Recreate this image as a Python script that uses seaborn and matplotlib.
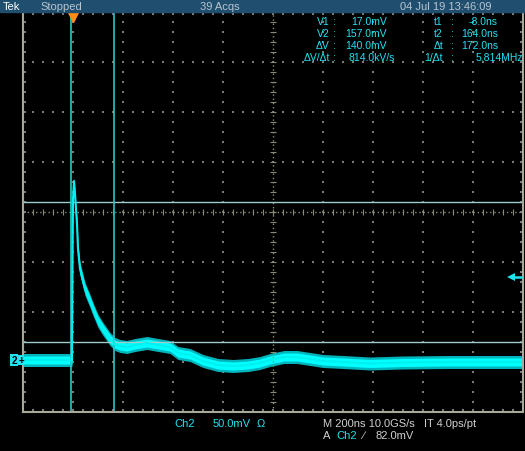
"""
Scope capture: Ch2 pulse with two pairs of cursors
"""
import numpy as np
import matplotlib.pyplot as plt
import seaborn as sns
import pandas as pd

# trace (time in ns, level in mV, half band width in mV)
time_ns = [-200, -8, -4, -2, 0, 4, 8, 12, 16, 20, 28, 36, 48, 68, 80, 100, 120,
           148, 168, 188, 216, 248, 296, 340, 388, 420, 468, 520, 580, 640, 700,
           748, 788, 844, 896, 948, 1000, 1080, 1188, 1320, 1500, 1800]
level_mv = [-1, -1, -1, 100, 160, 178, 165, 150, 135, 110, 90, 82, 70, 58, 50, 38, 30,
            20, 15, 13, 12, 14, 16, 14, 12, 6, 4, -2, -6, -7, -6,
            -4, -1, 2, 2, 0, -2, -3, -4.5, -3.5, -3, -3]
band_mv = [5, 5, 5, 2, 2, 2, 2, 2, 3, 4, 5, 5, 5, 5, 5, 5, 5,
           5, 5, 5, 5, 5, 5, 5, 5, 5, 5, 5, 5, 5, 5,
           5, 5, 5, 5, 5, 5, 5, 5, 5, 5, 5]

# cursors and trigger
v_cursors = [17.0, 157.0]
t_cursors = [-8.0, 164.0]
trig_level = 82.0

header = ["Tek", "Stopped", "39 Acqs", "04 Jul 19 13:46:09"]
readout_left = [("V1", "17.0mV"), ("V2", "157.0mV"), ("\u0394V", "140.0mV"),
                ("\u0394V/\u0394t", "814.0kV/s")]
readout_right = [("t1", "-8.0ns"), ("t2", "164.0ns"), ("\u0394t", "172.0ns"),
                 ("1/\u0394t", "5.814MHz")]

W, H = 525, 452
CYAN = "#22e2f2"


def fx(x):
    return x / W


def fy(y):
    return 1 - y / H


sns.set_style("dark")
plt.rcParams["font.family"] = ["Liberation Sans", "DejaVu Sans"]

df = pd.DataFrame({"t": time_ns, "v": level_mv, "b": band_mv})

fig = plt.figure(figsize=(W / 100, H / 100), dpi=100, facecolor="black")
ax = fig.add_axes([fx(23), fy(413), 500 / W, 400 / H])
ax.set_facecolor("black")
xmin, xmax = -200, 1800
ymin, ymax = -53, 347
ax.set_xlim(xmin, xmax)
ax.set_ylim(ymin, ymax)
ax.set_xticks([])
ax.set_yticks([])
ax.grid(False)
for s in ax.spines.values():
    s.set_color("#a8a898")
    s.set_linewidth(1.5)
ax.spines["top"].set_color("#b8c8b0")

# graticule dots every minor division
dot = "#7a7a7a"
gx = np.arange(xmin + 200, xmax, 200)
gy = np.arange(ymin + 50, ymax, 50)
minor_x = np.arange(xmin, xmax + 1, 40)
minor_y = np.arange(ymin, ymax + 1, 10)
for x in gx:
    if x == 800:
        continue
    ax.scatter(np.full(len(minor_y), x), minor_y, s=0.6, marker="s", color=dot, lw=0)
for y in gy:
    if y == 147:
        continue
    ax.scatter(minor_x, np.full(len(minor_x), y), s=0.6, marker="s", color=dot, lw=0)
# border ticks
ax.scatter(minor_x, np.full(len(minor_x), ymax - 2), s=0.6, marker="s", color=dot, lw=0)
ax.scatter(minor_x, np.full(len(minor_x), ymin + 2), s=0.6, marker="s", color=dot, lw=0)
ax.scatter(np.full(len(minor_y), xmin + 8), minor_y, s=0.6, marker="s", color=dot, lw=0)
ax.scatter(np.full(len(minor_y), xmax - 8), minor_y, s=0.6, marker="s", color=dot, lw=0)
# centre crosshair
ax.axhline(147, color="#8a8a7a", lw=1, ls=(0, (1, 2)))
ax.axvline(800, color="#8a8a7a", lw=1, ls=(0, (1, 2)))
ax.scatter(minor_x, np.full(len(minor_x), 147), s=14, marker="|", color="#8a8a7a", lw=0.8)
ax.scatter(np.full(len(minor_y), 800), minor_y, s=14, marker="_", color="#8a8a7a", lw=0.8)

# cursors
for v in v_cursors:
    ax.axhline(v, color="#9ccccc", lw=1)
for t in t_cursors:
    ax.axvline(t, color="#2cc4cc", lw=1.2)

# waveform band
ax.fill_between(df["t"], df["v"] - df["b"] - 1.5, df["v"] + df["b"] + 1.5,
                color="#00b4bc", lw=0)
ax.fill_between(df["t"], df["v"] - df["b"] + 1, df["v"] + df["b"] - 1,
                color="#00ffff", lw=0)
sns.lineplot(data=df, x="t", y="v", ax=ax, color="#00f0f0", lw=1.5, legend=False)
ax.set_xlabel("")
ax.set_ylabel("")

# trigger position and level markers
ax.plot(0, ymax - 5, marker="v", color="#ff8c1a", ms=7, clip_on=False, zorder=5)
ax.plot([1756, 1796], [trig_level, trig_level], color=CYAN, lw=1.8, zorder=5)
ax.plot(1750, trig_level, marker="<", color=CYAN, ms=6, mew=0, zorder=5)

# header bar
fig.patches.append(plt.Rectangle((0, fy(13)), 1, 13 / H, transform=fig.transFigure,
                                 color="#1f4e6e", zorder=0))
hc = "#b8c4d0"
fig.text(fx(3), fy(6.5), header[0], color="white", fontsize=8, va="center")
fig.text(fx(40), fy(6.5), header[1], color=hc, fontsize=8, va="center")
fig.text(fx(200), fy(6.5), header[2], color=hc, fontsize=8, va="center")
fig.text(fx(400), fy(6.5), header[3], color=hc, fontsize=8, va="center")

# cursor readouts
rows = [22, 34, 46, 58]
ends_left = [387, 387, 387, 395]
ends_right = [498, 498, 498, 523]
for i, y in enumerate(rows):
    lab, val = readout_left[i]
    fig.text(fx(330), fy(y), lab, color=CYAN, fontsize=7.5, ha="right", va="center")
    fig.text(fx(333), fy(y), ":", color=CYAN, fontsize=7.5, va="center")
    fig.text(fx(ends_left[i]), fy(y), val, color=CYAN, fontsize=7.5, ha="right", va="center")
    lab, val = readout_right[i]
    fig.text(fx(443), fy(y), lab, color=CYAN, fontsize=7.5, ha="right", va="center")
    fig.text(fx(451), fy(y), ":", color=CYAN, fontsize=7.5, va="center")
    fig.text(fx(ends_right[i]), fy(y), val, color=CYAN, fontsize=7.5, ha="right", va="center")

# ground marker for Ch2
fig.text(fx(14), fy(361), "2", color="black", fontsize=7, ha="center", va="center",
         fontweight="bold", bbox=dict(boxstyle="square,pad=0.15", fc=CYAN, ec="none"))
fig.text(fx(21), fy(361), "+", color="black", fontsize=7, ha="center", va="center",
         fontweight="bold", bbox=dict(boxstyle="square,pad=0.05", fc=CYAN, ec="none"))

# bottom status lines
bc = "#d0d0d0"
fig.text(fx(174), fy(424), "Ch2", color=CYAN, fontsize=8, va="center")
fig.text(fx(213), fy(424), "50.0mV", color=CYAN, fontsize=8, va="center")
fig.text(fx(257), fy(424), "\u03a9", color=CYAN, fontsize=8, va="center")
fig.text(fx(323), fy(424), "M 200ns 10.0GS/s", color=bc, fontsize=8, va="center")
fig.text(fx(424), fy(424), "IT 4.0ps/pt", color=bc, fontsize=8, va="center")
fig.text(fx(323), fy(436), "A", color=bc, fontsize=8, va="center")
fig.text(fx(336), fy(436), "Ch2", color=CYAN, fontsize=8, va="center")
fig.text(fx(362), fy(436), "\u2215", color=bc, fontsize=8, va="center")
fig.text(fx(375), fy(436), "82.0mV", color=bc, fontsize=8, va="center")

fig.savefig("out.png", dpi=100, facecolor="black")
